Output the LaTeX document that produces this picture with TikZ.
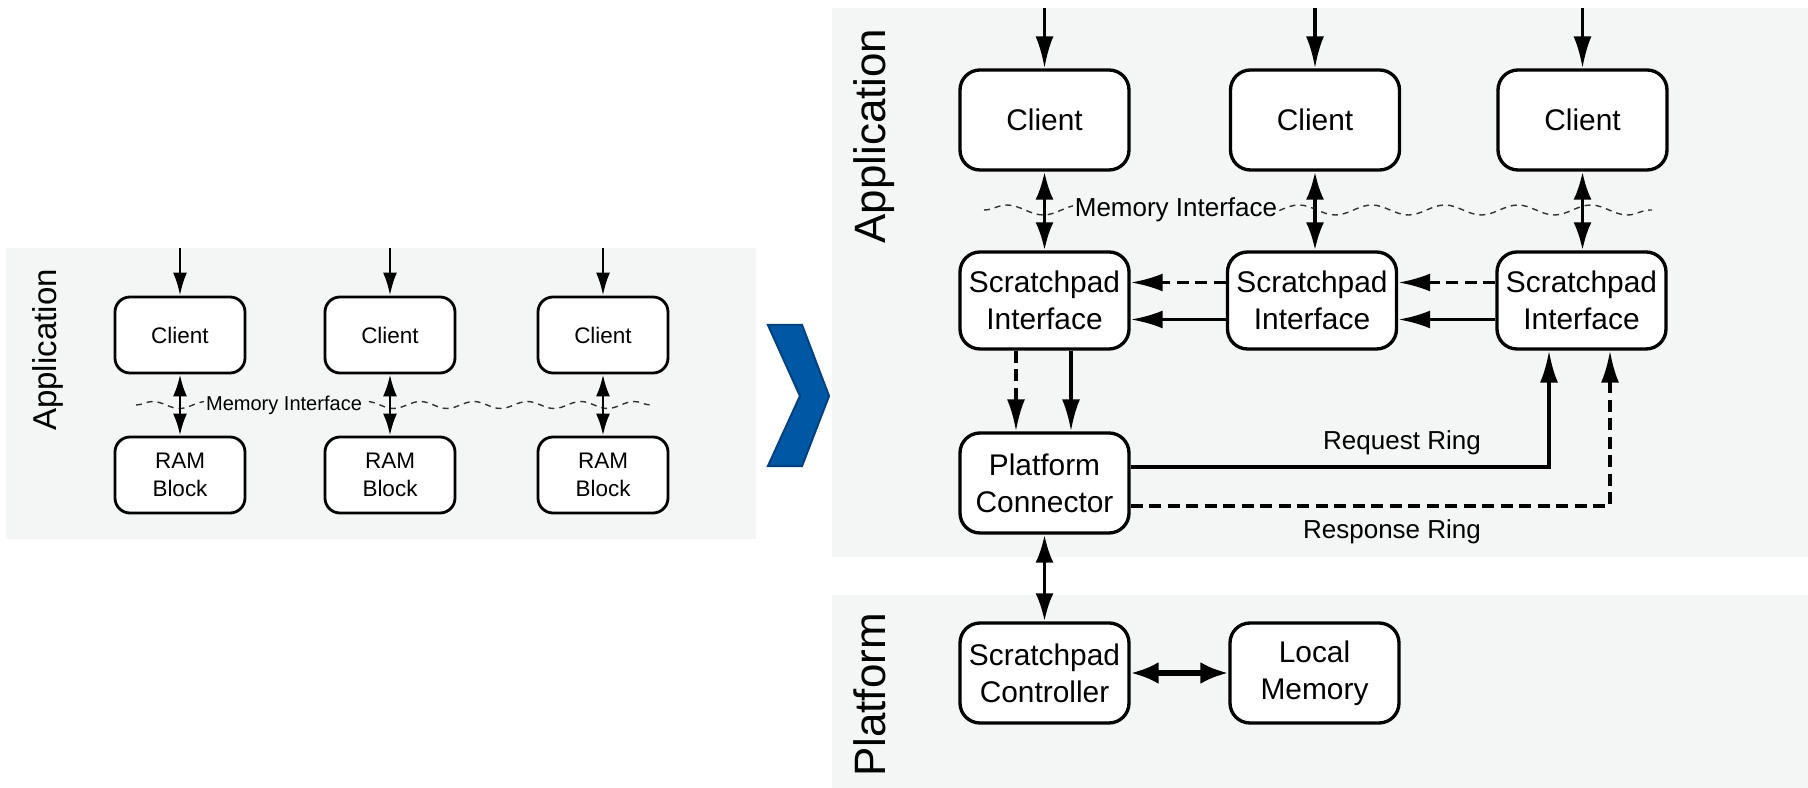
\documentclass[tikz,border=0pt]{standalone}
\usepackage{fontspec}
\setmainfont{Liberation Sans}
\usetikzlibrary{arrows.meta,decorations.pathmorphing}
\definecolor{panelfill}{HTML}{F4F6F6}
\definecolor{chevblue}{HTML}{0058A5}
\definecolor{chevedge}{HTML}{00427F}
\tikzset{
  smallbox/.style={draw=black, fill=white, rounded corners=.3cm, line width=1.6pt,
    minimum width=2.6cm, minimum height=1.52cm, align=center, inner sep=1pt,
    font=\fontsize{12.8}{15.9}\selectfont},
  bigbox/.style={draw=black, fill=white, rounded corners=.4cm, line width=1.9pt,
    minimum width=3.38cm, minimum height=2cm, align=center, inner sep=1pt,
    font=\fontsize{17}{21}\selectfont},
  sidetitle/.style={rotate=90, font=\fontsize{25}{30}\selectfont},
  ringlabel/.style={font=\fontsize{14.8}{18}\selectfont},
  smallflow/.style={-{Latex[length=.46cm,width=.28cm]}, line width=1.6pt},
  smallboth/.style={{Latex[length=.44cm,width=.28cm]}-{Latex[length=.44cm,width=.28cm]}, line width=1.6pt},
  bigflow/.style={-{Latex[length=.64cm,width=.36cm]}, line width=2.1pt},
  bigboth/.style={{Latex[length=.56cm,width=.36cm]}-{Latex[length=.56cm,width=.36cm]}, line width=2.1pt},
  bigdash/.style={bigflow, dash pattern=on .24cm off .13cm},
  fatboth/.style={{Latex[length=.56cm,width=.44cm]}-{Latex[length=.56cm,width=.44cm]}, line width=3pt},
  wavy/.style={draw=black!80, line width=.8pt, dash pattern=on .12cm off .1cm,
    decorate, decoration={snake, amplitude=#1}},
  wavy/.default=.1cm
}

\begin{document}
\begin{tikzpicture}[x=1cm,y=1cm]
  \useasboundingbox (0,0) rectangle (36.16,15.76);
  % panels
  \fill[panelfill] (.12,4.98) rectangle (15.12,10.80);
  \fill[panelfill] (16.64,4.62) rectangle (36.16,15.60);
  \fill[panelfill] (16.64,0) rectangle (36.16,3.86);
  \coordinate (ltop) at (0,10.80);
  \coordinate (rtop) at (0,15.60);

  % before: clients on private RAM blocks
  \node[sidetitle, font=\fontsize{18.8}{22}\selectfont] (lapp) at (.96,8.76) {Application};
  \draw[wavy=.07cm, decoration={segment length=1.07cm}] (2.72,7.66) -- (13.04,7.66);
  \node[fill=panelfill, inner sep=1pt, font=\fontsize{11.4}{13}\selectfont] (lmem) at (5.68,7.66) {Memory Interface};
  \node[smallbox] (lc1) at (3.60,9.06) {Client};
  \node[smallbox] (lc2) at (7.80,9.06) {Client};
  \node[smallbox] (lc3) at (12.06,9.06) {Client};
  \node[smallbox] (lr1) at (3.60,6.26) {RAM\\Block};
  \node[smallbox] (lr2) at (7.80,6.26) {RAM\\Block};
  \node[smallbox] (lr3) at (12.06,6.26) {RAM\\Block};
  \foreach \i in {1,2,3} {
    \draw[smallflow] (lc\i.north |- ltop) -- (lc\i.north);
    \draw[smallboth] (lc\i) -- (lr\i);
  }

  % chevron
  \draw[fill=chevblue, draw=chevedge, line width=1.2pt, line join=miter]
    (15.36,9.26) -- (16.04,9.26) -- (16.58,7.84) -- (16.04,6.44)
    -- (15.36,6.44) -- (16.00,7.84) -- cycle;

  % after: scratchpads over the platform
  \node[sidetitle] (rapp) at (17.48,13.04) {Application};
  \node[sidetitle] (rplat) at (17.40,1.86) {Platform};
  \draw[wavy=.1cm, decoration={segment length=1.46cm}] (19.68,11.56) -- (33.04,11.56);
  \node[fill=panelfill, inner sep=1pt, ringlabel] (rmem) at (23.52,11.56) {Memory Interface};
  \node[bigbox] (cl1) at (20.89,13.36) {Client};
  \node[bigbox] (cl2) at (26.30,13.36) {Client};
  \node[bigbox] (cl3) at (31.65,13.36) {Client};
  \node[bigbox, minimum height=1.94cm] (si1) at (20.89,9.75) {Scratchpad\\Interface};
  \node[bigbox, minimum height=1.94cm] (si2) at (26.24,9.75) {Scratchpad\\Interface};
  \node[bigbox, minimum height=1.94cm] (si3) at (31.63,9.75) {Scratchpad\\Interface};
  \node[bigbox] (pc) at (20.89,6.10) {Platform\\Connector};
  \node[bigbox] (sc) at (20.89,2.30) {Scratchpad\\Controller};
  \node[bigbox] (lm) at (26.29,2.30) {Local\\Memory};
  \draw[bigflow] (cl1.north |- rtop) -- (cl1.north);
  \draw[bigflow] (cl2.north |- rtop) -- (cl2.north);
  \draw[bigflow] (cl3.north |- rtop) -- (cl3.north);
  \draw[bigboth] (cl1) -- (si1);
  \draw[bigboth] (cl2.south) -- (cl2.south |- si2.north);
  \draw[bigboth] (cl3.south) -- (cl3.south |- si3.north);
  \draw[bigdash] ([yshift=.36cm]si2.west) -- ([yshift=.36cm]si1.east);
  \draw[bigflow] ([yshift=-.38cm]si2.west) -- ([yshift=-.38cm]si1.east);
  \draw[bigdash] ([yshift=.36cm]si3.west) -- ([yshift=.36cm]si2.east);
  \draw[bigflow] ([yshift=-.38cm]si3.west) -- ([yshift=-.38cm]si2.east);
  \draw[bigdash] ([xshift=-.57cm]si1.south) -- ([xshift=-.57cm]pc.north);
  \draw[bigflow] ([xshift=.53cm]si1.south) -- ([xshift=.53cm]pc.north);
  \draw[bigflow] ([yshift=.32cm]pc.east) -| ([xshift=-.65cm]si3.south);
  \draw[bigdash] ([yshift=-.46cm]pc.east) -| ([xshift=.57cm]si3.south);
  \node[ringlabel] (req) at (28.04,6.90) {Request Ring};
  \node[ringlabel] (resp) at (27.84,5.12) {Response Ring};
  \draw[bigboth] (pc) -- (sc);
  \draw[fatboth] (sc) -- (lm);
\end{tikzpicture}
\end{document}
